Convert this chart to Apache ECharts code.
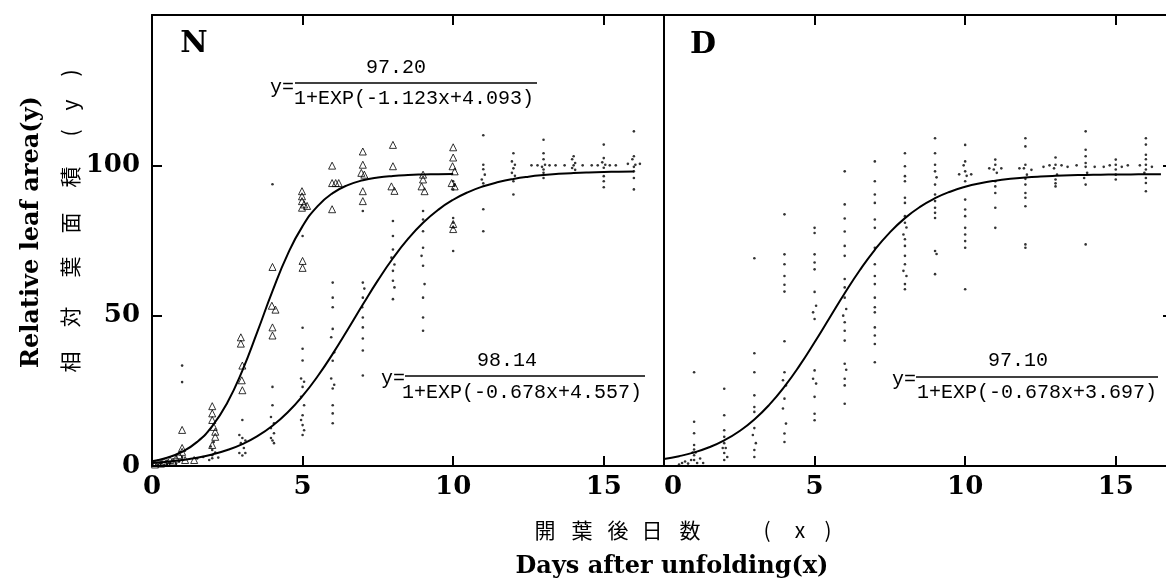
<!DOCTYPE html>
<html>
<head>
<meta charset="utf-8">
<script src="https://cdn.jsdelivr.net/npm/echarts@6/dist/echarts.min.js"></script>
<style>
html,body{margin:0;padding:0;background:#fff;}
#chart{width:1166px;height:581px;}
</style>
</head>
<body>
<div id="chart"></div>
<script>
// ---------------- DATA ----------------
const xTicks = [0, 5, 10, 15];
const yTicks = [0, 50, 100];

// Panel N : triangles (early group)
const nTriangles = [
  [0.1,0.5],[0.2,1],[0.3,0.8],[0.4,1.5],[0.5,1],[0.6,2],[0.7,1.5],[0.8,2.5],[0.9,3.6],[1.0,4.7],[1.0,6],[1.1,2],[1.0,12],[1.4,2],
  [2,19.9],[2,17.5],[2,15.3],[2.05,13],[2.1,11.4],[2.1,9.7],[2,7],
  [2.95,42.8],[2.95,40.7],[3,33.4],[2.98,28.5],[3,25.2],
  [4,66.2],[3.98,53.3],[4.1,52],[4,46.1],[4,43.4],
  [4.98,91.4],[4.98,89.7],[4.98,88.1],[5.05,87],[4.98,85.9],[5.15,86.5],[5,68.2],[5,65.9],
  [5.98,99.9],[5.98,94.1],[6.1,94.1],[6.2,94.1],[5.98,85.4],
  [7,104.6],[7,100.2],[6.95,97.5],[7.05,96.9],[7,91.4],[7,88.1],
  [8,106.8],[8,99.7],[7.95,93],[8.05,91.5],
  [9,96.9],[9,95.3],[8.95,93],[9.05,91.4],
  [10,106],[10,102.6],[9.98,99.7],[10.05,98],[9.95,94.1],[10.05,93],[10,80.5],[10,78.8]
];
// Panel N : dots (late group)
const nDots = [
  [0.2,0.5],[0.3,1],[0.5,0.5],[0.6,1.2],[0.8,0.8],[0.9,1.5],[1,2],[1,3],[1,33.4],[1,27.9],[1.5,2.5],[1.7,3],[1.9,2],
  [2,5.3],[2,3.6],[2,2.6],[2.05,8],[1.95,6.5],[2.1,4.5],[2.2,2.8],
  [3,15.3],[2.9,10.3],[3,9.3],[3.1,8.5],[2.95,7.6],[3.05,6],[2.9,4.3],[3.1,4.3],[3,3.5],
  [4,93.7],[4,26.3],[4,20.2],[3.95,16.3],[4.05,14.2],[3.95,12.6],[4.05,10.9],[3.95,9.3],[4.05,7.6],[4,8.5],
  [5,76.5],[5,46],[5,39],[5,35.1],[4.95,29.1],[5.05,28],[5,26.3],[4.95,23],[5.05,20.2],[5,16.9],[4.95,15.3],[5,13.6],[5.05,11.9],[5,10.3],
  [6,61],[6,56],[6,52.8],[6,45.6],[5.95,42.8],[6.05,37.8],[6,35],[5.95,29.1],[6.05,27],[6,25.8],[6,20.2],[6,17.5],[6,14.2],
  [7,84.8],[7,61],[7.05,59],[7,56],[6.98,52.8],[7,49.4],[7,46.1],[7,42.4],[7,38.4],[7,30.1],
  [8,81.5],[8,76.5],[8,72],[7.95,69.3],[8.05,67],[8,64.9],[8,61.6],[8.05,59.4],[8,55.5],
  [9,84.8],[9,82],[9,78.1],[9,72.6],[8.95,69.9],[9,66.6],[9.05,60.5],[9,56],[9,49.4],[9,45],
  [10,94.7],[10.05,93.5],[10,92],[10,82.5],[10,80.9],[10,79.3],[10,71.5],
  [11,110],[11,100.2],[11,98.7],[11.05,96.9],[10.95,95.3],[11,94],[11,85.4],[11,78.1],
  [12,104],[11.95,101.3],[12.05,100.2],[12,99],[11.95,97.5],[12.05,96.5],[12,94.7],[12,90.3],
  [12.6,100],[12.8,100],[13,108.5],[13,104],[13,102],[13.05,100.2],[12.95,99.5],[13,98.6],[13,97.5],[13,95.8],[13.2,100],[13.4,100],
  [14,103],[13.95,102],[14.05,100.8],[14,100],[13.95,99.1],[14.05,98.5],[13.7,100],[14.3,100],
  [15,106.9],[15,102.4],[14.95,101],[15.05,100.2],[15,99.2],[15,96.4],[15,94.7],[15,92.7],[14.6,100],[14.8,100],[15.2,100],[15.4,100],
  [16,111.3],[16,103],[15.95,102],[16.05,100.2],[16,99.5],[16,98],[16,95.8],[16,92],[15.8,100.5],[16.2,100.5]
];
// Panel D : dots
const dDots = [
  [0.5,0.5],[0.6,1],[0.7,1.5],[0.8,0.8],[0.9,2],[1.1,1],[1.2,2.5],[1.3,1],
  [1,31.2],[1,14.7],[1,10.9],[1,7],[1,5.5],[1,3.6],[1,2],[0.95,4.5],[1.05,4.5],
  [2,25.7],[2,16.9],[2,11.9],[2,9.7],[2,7.6],[2.05,6],[1.95,6],[2,4.3],[2,2],[2.1,3],
  [3,69.1],[3,37.5],[3,31.2],[3,23.5],[3,19.6],[3,18],[3,12.6],[2.95,10.3],[3.05,7.6],[3,5.3],[3,3],
  [4,83.7],[4,70.4],[4,67.1],[4,63.2],[4,60.3],[4,58],[4,41.5],[4,31.2],[3.95,28.5],[4.05,26.8],[4,22.4],[3.95,19.1],[4.05,14.1],[4,10.8],[4,8],
  [5,79.2],[5,77.5],[5,70.4],[5,67.7],[5,65.4],[5,57.9],[5.05,53.3],[4.95,51.1],[5,48.9],[5,31.8],[4.95,29],[5.05,27.4],[5,23],[5,17.4],[5,15.2],
  [6,98],[6,87],[6,82.3],[6,78],[6,73.2],[6,69.9],[6,62.2],[6,59.4],[6,56],[6.05,52.2],[5.95,50],[6,47.8],[6,45],[6,41.7],[6,34],[6.05,32],[6,29],[6,26.8],[6,20.7],
  [7,101.3],[7,94.7],[7,90.3],[7,87.5],[7,82],[7,79.2],[7,72.6],[7,67.1],[7,63.2],[7,60.5],[7,56],[7,52.8],[7,51.1],[7,46.1],[7,43.4],[7,40.6],[7,34.5],
  [8,104],[8,99.7],[8,96.4],[8,94.7],[8,89.2],[8,87.5],[8,83.1],[8,80.9],[8.05,79.3],[7.95,77],[8,75.4],[8,73.2],[8,69.9],[8,67.1],[7.95,64.9],[8.05,63.2],[8,60.5],[8,58.8],
  [9,109],[9,104],[9,100.2],[9,98],[9.05,96],[9,93.6],[9,90.3],[9,88.1],[9,85.9],[9,84.2],[9,82.5],[9,71.5],[9.05,70.5],[9,63.8],
  [10,106.8],[10,101.3],[9.95,100],[10,98],[10.05,96.5],[10,94.7],[9.8,97],[10.2,97],[10,88.6],[10,85.3],[10,83.1],[10,79.2],[10,77],[10,74.8],[10,72.6],[10,58.8],
  [11,101.9],[11,100.2],[10.95,98.6],[11.05,97.5],[11,94.7],[11,93],[11,90.8],[11,85.9],[11,79.2],[10.8,99],[11.2,99],
  [12,109],[12,106.3],[12,100.2],[11.95,99],[12.05,96.9],[12,95.5],[12,93.6],[12,90.8],[12,89.2],[12,86.4],[12,73.7],[12,72.6],[11.8,99],[12.2,98.5],
  [13,102.6],[13,100.2],[12.95,99],[13.05,96.9],[13,95.3],[13,94],[13,93],[12.6,99.5],[12.8,100],[13.2,100],[13.4,99.5],
  [14,111.3],[14,105.2],[14,103],[14,100.8],[14,99.5],[14.05,97.5],[13.95,95.8],[14,93.6],[14,73.7],[13.7,100],[14.3,99.5],
  [15,101.9],[15,100.2],[15,98.6],[15,96.9],[15,95.3],[14.6,99.5],[14.8,100],[15.2,99.5],[15.4,100],
  [16,109],[16,106.9],[16,103.5],[16,102],[16,100.2],[16,98.6],[15.95,97.5],[16,95.8],[16,94.1],[16,91.4],[15.8,100],[16.2,99.5]
];

// Fitted curves
const nCurve1X = [0,0.5,1,1.5,2,2.5,3,3.5,4,4.5,5,5.5,6,6.5,7,7.5,8,8.5,9,9.5,10];
const nCurve1Y = [1.60,2.76,4.74,8.02,13.24,21.05,31.73,44.67,58.17,70.30,79.78,86.44,90.76,93.42,95.01,95.94,96.48,96.79,96.96,97.07,97.12];
const nCurve2X = [0,0.5,1,1.5,2,2.5,3,3.5,4,4.5,5,5.5,6,6.5,7,7.5,8,8.5,9,9.5,10,10.5,11,11.5,12,12.5,13,13.5,14,14.5,15,15.5,16];
const nCurve2Y = [1.02,1.42,1.99,2.77,3.84,5.30,7.29,9.93,13.39,17.81,23.30,29.84,37.30,45.39,53.69,61.73,69.10,75.53,80.89,85.19,88.55,91.11,93.03,94.44,95.48,96.23,96.77,97.16,97.44,97.64,97.78,97.89,97.96];
const dCurveX = [0,0.5,1,1.5,2,2.5,3,3.5,4,4.5,5,5.5,6,6.5,7,7.5,8,8.5,9,9.5,10,10.5,11,11.5,12,12.5,13,13.5,14,14.5,15,15.5,16,16.5];
const dCurveY = [2.35,3.27,4.52,6.23,8.52,11.56,15.47,20.41,26.40,33.39,41.16,49.33,57.46,65.10,71.91,77.71,82.44,86.18,89.06,91.23,92.85,94.03,94.89,95.52,95.97,96.29,96.52,96.69,96.81,96.89,96.95,96.99,97.02,97.05];

const panelLabels = ['N', 'D'];
const equations = [
  {lhs: 'y=', num: '97.20', den: '1+EXP(-1.123x+4.093)'},
  {lhs: 'y=', num: '98.14', den: '1+EXP(-0.678x+4.557)'},
  {lhs: 'y=', num: '97.10', den: '1+EXP(-0.678x+3.697)'}
];
const yTitleEn = 'Relative leaf area(y)';
const yTitleJa = ['相','対','葉','面','積','(','y',')'];
const xTitleEn = 'Days after unfolding(x)';
const xTitleJa = ['開','葉','後','日','数','(','x',')'];

// ---------------- CHART ----------------
const zip = (xs, ys) => xs.map((x, i) => [x, ys[i]]);
const chart = echarts.init(document.getElementById('chart'), null, {renderer: 'canvas'});
const BLACK = '#000';
const tickFont = {fontFamily: 'DejaVu Serif', fontWeight: 'bold', fontSize: 26, color: BLACK};
const lineStyle = {color: BLACK, width: 2};

function xAx(grid, pos, labels) {
  return {
    type: 'value', gridIndex: grid, position: pos, min: 0, max: 17, interval: 5,
    axisLine: {show: true, onZero: false, lineStyle},
    axisTick: {show: true, inside: true, length: 10, lineStyle},
    splitLine: {show: false},
    axisLabel: Object.assign({show: labels, margin: 8, showMaxLabel: false,
      alignMinLabel: grid === 1 ? 'left' : 'center',
      formatter: v => xTicks.includes(v) ? String(v) : ''}, tickFont)
  };
}
function yAx(grid, pos, ticks, labels, tickLen) {
  return {
    type: 'value', gridIndex: grid, position: pos, min: 0, max: 150, interval: 50,
    axisLine: {show: true, onZero: false, lineStyle},
    axisTick: {show: ticks, inside: true, length: tickLen || 10, lineStyle},
    splitLine: {show: false},
    axisLabel: Object.assign({show: labels, margin: 12, showMaxLabel: false,
      formatter: v => yTicks.includes(v) ? String(v) : ''}, tickFont)
  };
}

const eqFont = '20px "Liberation Mono"';
function equation(eq, lhsRight, lineX1, lineX2, lineY, numCx, numY, denCx, denY, lhsY) {
  return [
    {type: 'text', x: lhsRight, y: lhsY, style: {text: eq.lhs, font: eqFont, fill: BLACK, textAlign: 'right', align: 'right', textVerticalAlign: 'middle', verticalAlign: 'middle'}},
    {type: 'line', shape: {x1: lineX1, y1: lineY, x2: lineX2, y2: lineY}, style: {stroke: BLACK, lineWidth: 1.6}},
    {type: 'text', x: numCx, y: numY, style: {text: eq.num, font: eqFont, fill: BLACK, textAlign: 'center', align: 'center', textVerticalAlign: 'middle', verticalAlign: 'middle'}},
    {type: 'text', x: denCx, y: denY, style: {text: eq.den, font: eqFont, fill: BLACK, textAlign: 'center', align: 'center', textVerticalAlign: 'middle', verticalAlign: 'middle'}}
  ];
}

const graphics = [];
graphics.push({type: 'text', x: 194, y: 44, style: {text: panelLabels[0], font: 'bold 30px "DejaVu Serif"', fill: BLACK, textAlign: 'center', align: 'center', textVerticalAlign: 'middle', verticalAlign: 'middle'}});
graphics.push({type: 'text', x: 703, y: 45, style: {text: panelLabels[1], font: 'bold 30px "DejaVu Serif"', fill: BLACK, textAlign: 'center', align: 'center', textVerticalAlign: 'middle', verticalAlign: 'middle'}});
graphics.push(...equation(equations[0], 294, 295, 537, 83, 396, 68, 414, 99, 88));
graphics.push(...equation(equations[1], 405, 405, 645, 376, 507, 361, 522, 393, 379));
graphics.push(...equation(equations[2], 916, 916, 1158, 377, 1018, 361, 1037, 393, 380));
graphics.push({type: 'text', x: 32, y: 232, rotation: Math.PI / 2, style: {text: yTitleEn, font: 'bold 24px "DejaVu Serif"', fill: BLACK, textAlign: 'center', align: 'center', textVerticalAlign: 'middle', verticalAlign: 'middle'}});
const yJaPos = [362, 317, 267, 223, 177, 133, 105, 73];
yTitleJa.forEach((ch, i) => graphics.push({type: 'text', x: 70, y: yJaPos[i], rotation: Math.PI / 2, style: {text: ch, font: '21px "Noto Sans CJK JP"', fill: BLACK, textAlign: 'center', align: 'center', textVerticalAlign: 'middle', verticalAlign: 'middle'}}));
graphics.push({type: 'text', x: 672, y: 567, style: {text: xTitleEn, font: 'bold 24px "DejaVu Serif"', fill: BLACK, textAlign: 'center', align: 'center', textVerticalAlign: 'middle', verticalAlign: 'middle'}});
const xJaPos = [545, 582, 618, 652, 690, 767, 800, 828];
xTitleJa.forEach((ch, i) => graphics.push({type: 'text', x: xJaPos[i], y: 530, style: {text: ch, font: '21px "Noto Sans CJK JP"', fill: BLACK, textAlign: 'center', align: 'center', textVerticalAlign: 'middle', verticalAlign: 'middle'}}));

const option = {
  backgroundColor: '#fff',
  animation: false,
  grid: [
    {left: 152, top: 15, width: 512, height: 451, outerBoundsMode: 'none', containLabel: false},
    {left: 664, top: 15, width: 512, height: 451, outerBoundsMode: 'none', containLabel: false}
  ],
  xAxis: [xAx(0, 'bottom', true), xAx(0, 'top', false), xAx(1, 'bottom', true), xAx(1, 'top', false)],
  yAxis: [yAx(0, 'left', true, true), yAx(0, 'right', false, false), yAx(1, 'left', false, false), yAx(1, 'right', true, false, 13)],
  series: [
    {type: 'scatter', xAxisIndex: 0, yAxisIndex: 0, data: nDots, symbol: 'circle', symbolSize: 2.6, itemStyle: {color: BLACK}, z: 2},
    {type: 'scatter', xAxisIndex: 0, yAxisIndex: 0, data: nTriangles, symbol: 'triangle', symbolSize: 7, itemStyle: {color: 'rgba(255,255,255,0)', borderColor: BLACK, borderWidth: 1}, z: 2},
    {type: 'line', xAxisIndex: 0, yAxisIndex: 0, data: zip(nCurve1X, nCurve1Y), showSymbol: false, smooth: true, lineStyle: {color: BLACK, width: 2}, z: 3},
    {type: 'line', xAxisIndex: 0, yAxisIndex: 0, data: zip(nCurve2X, nCurve2Y), showSymbol: false, smooth: true, lineStyle: {color: BLACK, width: 2}, z: 3},
    {type: 'scatter', xAxisIndex: 2, yAxisIndex: 2, data: dDots, symbol: 'circle', symbolSize: 2.6, itemStyle: {color: BLACK}, z: 2},
    {type: 'line', xAxisIndex: 2, yAxisIndex: 2, data: zip(dCurveX, dCurveY), showSymbol: false, smooth: true, lineStyle: {color: BLACK, width: 2}, z: 3}
  ],
  graphic: {elements: graphics}
};
chart.setOption(option);
</script>
</body>
</html>
